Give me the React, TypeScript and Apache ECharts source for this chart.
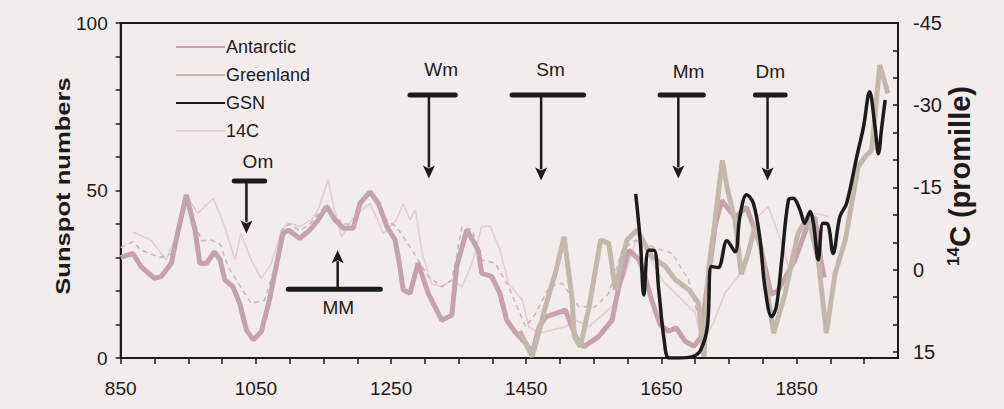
import React, { useEffect, useRef } from "react";
import * as echarts from "echarts";

// ---- data (year, value) ----
const antarctic: [number, number][] = [
  [850, 30], [868, 31.2], [880, 27.3], [900, 23.8], [910, 24.3], [925, 28.3], [932, 35.2], [947, 48.7],
  [960, 38.2], [967, 28.3], [977, 28.3], [989, 31.7], [997, 29.3], [1004, 23.3], [1016, 21.3], [1026, 16.3],
  [1036, 8.4], [1046, 5.4], [1058, 7.9], [1070, 17.3], [1080, 27.3], [1090, 37.2], [1098, 38.2], [1115, 35.7],
  [1130, 38.2], [1142, 41.2], [1155, 45.2], [1167, 41.2], [1180, 38.7], [1194, 38.7], [1204, 46.2], [1219, 49.6],
  [1231, 46.2], [1244, 39.2], [1256, 35.2], [1263, 27.3], [1268, 20.3], [1278, 19.3], [1290, 28.3], [1305, 19.3],
  [1325, 11.3], [1340, 12.8], [1347, 27.3], [1362, 38.2], [1379, 32.2], [1384, 25.3], [1399, 24.3], [1411, 19.3],
  [1421, 11.3], [1433, 7.9], [1449, 4.4], [1459, 1.5], [1469, 9.3], [1479, 12.3], [1508, 14.3], [1523, 6.4],
  [1535, 3.4], [1557, 6.4], [1577, 11.3], [1587, 21.3], [1602, 32.2], [1617, 29.3], [1625, 25], [1636, 17],
  [1648, 10], [1660, 8], [1672, 9], [1685, 5], [1698, 3.5], [1708, 6], [1720, 25], [1730, 40], [1739, 47],
  [1759, 42], [1776, 45], [1797, 33], [1812, 19], [1822, 20], [1847, 29], [1867, 40], [1877, 42], [1886, 29],
  [1891, 24],
];

const greenland: [number, number][] = [
  [1440, 8], [1459, 0.4], [1478, 15], [1493, 25.3], [1506, 36.2], [1518, 17.3], [1521, 6.4], [1530, 3.4],
  [1543, 15.3], [1560, 35.2], [1572, 34.2], [1582, 20.3], [1592, 30], [1599, 35.2], [1614, 38.2], [1636, 30.2],
  [1656, 27.3], [1671, 23.3], [1691, 20.3], [1705, 16.3], [1713, 0.4], [1720, 27], [1730, 42], [1740, 59],
  [1747, 51], [1759, 41], [1768, 25], [1778, 31], [1788, 39], [1797, 33], [1816, 7.4], [1833, 19.3],
  [1852, 37.2], [1867, 42.2], [1882, 29.3], [1894, 7.4], [1907, 25.3], [1922, 35.2], [1941, 57.1], [1951, 60],
  [1961, 62], [1973, 87.5], [1985, 79],
];

const gsn: [number, number][] = [
  [1612, 49], [1619, 34.2], [1624, 18.8], [1631, 32.2], [1639, 32.2], [1646, 20.3], [1654, 5.4], [1661, 0],
  [1676, 0], [1696, 0.4], [1708, 2.4], [1718, 9.3], [1724, 27.3], [1734, 27], [1747, 35], [1759, 31.7],
  [1766, 42.2], [1776, 48.7], [1786, 46.2], [1796, 35.2], [1803, 21.3], [1813, 12.3], [1820, 15.3], [1828, 29.3],
  [1838, 47.2], [1845, 47.7], [1855, 44.2], [1862, 40.2], [1870, 43.7], [1875, 40.2], [1882, 29.3], [1889, 40.2],
  [1896, 40], [1904, 31.2], [1914, 42.2], [1924, 46.2], [1939, 60.1], [1949, 69], [1958, 79.5], [1966, 69],
  [1971, 61], [1976, 69], [1981, 77],
];

// 14C in promille (right axis, inverted)
const c14: [number, number][] = [
  [868, -6.9], [895, -5.4], [917, -1.8], [932, -6.0], [950, -13.0], [964, -10.3], [987, -13.0], [1004, -7.9],
  [1019, -1.8], [1028, -6.6], [1043, -1.8], [1058, 1.6], [1073, -1.2], [1088, -7.2], [1098, -8.5], [1115, -7.9],
  [1132, -9.1], [1142, -10.9], [1157, -16.4], [1165, -11.5], [1177, -6.0], [1192, -9.1], [1207, -10.9], [1219, -12.1],
  [1239, -6.6], [1258, -9.1], [1268, -12.1], [1278, -9.1], [1286, -10.9], [1296, -3.0], [1310, 2.5], [1325, 3.1],
  [1340, 1.9], [1355, 3.1], [1370, -1.2], [1384, -7.9], [1397, -7.9], [1411, -3.6], [1424, 2.5], [1444, 5.5],
  [1454, 10.4], [1469, 11.6], [1488, 11.0], [1508, 10.4], [1523, 9.2], [1543, 10.4], [1577, 6.7], [1597, 0.7],
  [1612, -5.4], [1626, -3.6], [1651, 1.9], [1676, 4.9], [1700, 7.9], [1710, 13.4], [1727, 9.7], [1744, 4.2],
  [1768, 0.6], [1793, -9.7], [1808, -11.5], [1823, -6.6], [1838, -0.6], [1857, -7.9], [1877, -10.3], [1897, -9.7],
];

// dashed envelope line (unlabelled in the legend)
const envelope: [number, number][] = [
  [850, 33], [868, 34.7], [880, 32.2], [908, 30], [925, 31], [947, 48], [960, 40], [970, 35], [984, 35.2],
  [997, 34], [1009, 27.3], [1025, 22], [1043, 16.3], [1063, 17.3], [1078, 27.3], [1088, 38.2], [1100, 40],
  [1115, 38], [1130, 40], [1142, 43], [1155, 46], [1167, 42], [1180, 40], [1194, 40], [1204, 46], [1219, 49],
  [1231, 46], [1244, 41], [1258, 39.2], [1281, 32.2], [1305, 24.3], [1325, 21.3], [1340, 23.3], [1355, 39.2],
  [1370, 38.2], [1384, 29.3], [1404, 28.3], [1424, 21.3], [1449, 9.3], [1464, 13.3], [1484, 21.3], [1503, 22.3],
  [1528, 15.3], [1552, 15.3], [1572, 19.3], [1592, 32.2], [1612, 35.2], [1640, 33], [1666, 31.2], [1690, 23.3],
  [1702, 14.3], [1715, 10],
];

// grand minima annotations
const minimaNames = ["Om", "MM", "Wm", "Sm", "Mm", "Dm"];
const minimaYear = [1036, 1171, 1306, 1472, 1675, 1807];
const barStart = [1018, 1098, 1278, 1429, 1648, 1789];
const barEnd = [1063, 1234, 1345, 1535, 1712, 1833];
const barLevel = [52.8, 20.5, 78.5, 78.5, 78.5, 78.5];
const tipLevel = [37.2, 32.2, 53.6, 53, 53.6, 53];
const labelYear = [1053, 1172, 1324, 1486, 1690, 1811];
const labelLevel = [58.6, 15.0, 86, 86, 85.6, 85.6];

const xLabels = [850, 1050, 1250, 1450, 1650, 1850];
const leftLabels = [0, 50, 100];
const rightLabels = [-45, -30, -15, 0, 15];

const FONT = '"Liberation Sans", Arial, Helvetica, sans-serif';
const INK = "#1c1a1b";
const BG = "#f2eced";

export default function App() {
  const ref = useRef<HTMLDivElement>(null);

  useEffect(() => {
    document.body.style.margin = "0";
    document.body.style.background = BG;
    const chart = echarts.init(ref.current!, null, { renderer: "svg" });

    const annData = minimaNames.map((_, i) => [
      minimaYear[i], barStart[i], barEnd[i], barLevel[i], tipLevel[i], labelYear[i], labelLevel[i],
    ]);

    const option: any = {
      animation: false,
      backgroundColor: BG,
      textStyle: { fontFamily: FONT },
      grid: {
        left: 120.7, right: 106, top: 23, bottom: 51,
        show: true, borderColor: INK, borderWidth: 2, backgroundColor: "transparent",
      },
      legend: {
        data: ["Antarctic", "Greenland", "GSN", "14C"],
        orient: "vertical",
        left: 170,
        top: 33,
        itemWidth: 49,
        itemHeight: 14,
        itemGap: 10,
        itemStyle: { opacity: 0 },
        textStyle: { fontSize: 18, color: INK, fontFamily: FONT, padding: [0, 0, 0, -4] },
      },
      xAxis: {
        type: "value",
        min: 850,
        max: 2000,
        interval: 50,
        splitLine: { show: false },
        axisLine: { lineStyle: { color: INK, width: 2 } },
        axisTick: { length: 6, lineStyle: { color: INK, width: 1.5 } },
        axisLabel: {
          margin: 21,
          fontSize: 19,
          color: INK,
          fontFamily: FONT,
          showMaxLabel: false,
          formatter: (v: number) => (xLabels.includes(v) ? String(v) : ""),
        },
      },
      yAxis: [
        {
          type: "value",
          min: 0,
          max: 100,
          interval: 10,
          position: "left",
          splitLine: { show: false },
          axisLine: { show: true, lineStyle: { color: INK, width: 2 } },
          axisTick: { show: true, length: 5, lineStyle: { color: INK, width: 1.5 } },
          axisLabel: {
            margin: 13,
            fontSize: 19,
            color: INK,
            fontFamily: FONT,
            formatter: (v: number) => (leftLabels.includes(v) ? String(v) : ""),
          },
        },
        {
          type: "value",
          min: -45,
          max: 16.1,
          interval: 5,
          inverse: true,
          position: "right",
          splitLine: { show: false },
          axisLine: { show: true, lineStyle: { color: INK, width: 2 } },
          axisTick: { show: true, inside: true, length: 5, lineStyle: { color: INK, width: 1.5 } },
          axisLabel: {
            margin: 15,
            fontSize: 20,
            color: INK,
            fontFamily: FONT,
            formatter: (v: number) => (rightLabels.includes(v) ? String(v) : ""),
          },
        },
      ],
      graphic: [
        {
          type: "text",
          x: 63,
          y: 186,
          rotation: Math.PI / 2,
          scaleX: 1.28,
          style: {
            text: "Sunspot numbers",
            font: `bold 20px ${FONT}`,
            fill: INK,
            align: "center",
            verticalAlign: "middle",
          },
        },
        {
          type: "text",
          x: 960,
          y: 176,
          rotation: Math.PI / 2,
          style: {
            text: "{sup|14}{main|C (promille)}",
            align: "center",
            verticalAlign: "middle",
            fill: INK,
            rich: {
              sup: { font: `bold 17px ${FONT}`, fill: INK, verticalAlign: "top", lineHeight: 30 },
              main: { font: `bold 29px ${FONT}`, fill: INK, lineHeight: 30 },
            },
          },
        },
      ],
      series: [
        {
          name: "14C",
          type: "line",
          yAxisIndex: 1,
          data: c14,
          symbol: "none",
          lineStyle: { color: "#e2cdd2", width: 1.6 },
          itemStyle: { color: "#e2cdd2" },
          z: 1,
        },
        {
          name: "envelope",
          type: "line",
          data: envelope,
          symbol: "none",
          lineStyle: { color: "#cfb3b8", width: 1.5, type: [5, 4] },
          z: 2,
        },
        {
          name: "Antarctic",
          type: "line",
          data: antarctic,
          symbol: "none",
          lineStyle: { color: "#c4a4aa", width: 5 },
          itemStyle: { color: "#c4a4aa" },
          z: 3,
        },
        {
          name: "Greenland",
          type: "line",
          data: greenland,
          symbol: "none",
          lineStyle: { color: "#c3b8ad", width: 5 },
          itemStyle: { color: "#c3b8ad" },
          z: 4,
        },
        {
          name: "GSN",
          type: "line",
          data: gsn,
          symbol: "none",
          smooth: 0.35,
          lineStyle: { color: INK, width: 3.5 },
          itemStyle: { color: INK },
          z: 5,
        },
        {
          name: "minima",
          type: "custom",
          data: annData,
          encode: { x: 0, y: 3 },
          z: 10,
          renderItem: (params: any, api: any) => {
            const i = params.dataIndex;
            const s = api.coord([api.value(0), api.value(3)]);
            const b0 = api.coord([api.value(1), api.value(3)]);
            const b1 = api.coord([api.value(2), api.value(3)]);
            const t = api.coord([api.value(0), api.value(4)]);
            const l = api.coord([api.value(5), api.value(6)]);
            const dir = t[1] > s[1] ? 1 : -1;
            const head = 13;
            const hw = 6;
            const stemEnd = t[1] - dir * head;
            return {
              type: "group",
              children: [
                { type: "line", shape: { x1: b0[0], y1: b0[1], x2: b1[0], y2: b1[1] }, style: { stroke: INK, lineWidth: 5, lineCap: "round" } },
                { type: "line", shape: { x1: s[0], y1: s[1], x2: s[0], y2: stemEnd + dir * 2 }, style: { stroke: INK, lineWidth: 2.5 } },
                { type: "polygon", shape: { points: [[t[0] - hw, stemEnd], [t[0], stemEnd + dir * 3], [t[0] + hw, stemEnd], [t[0], t[1]]] }, style: { fill: INK } },
                {
                  type: "text",
                  x: l[0],
                  y: l[1],
                  style: { text: minimaNames[i], font: `19px ${FONT}`, fill: INK, align: "center", verticalAlign: "middle" },
                },
              ],
            };
          },
        },
      ],
    };

    chart.setOption(option);
    return () => chart.dispose();
  }, []);

  return (
    <div
      ref={ref}
      style={{ position: "fixed", left: 0, top: 0, width: 1004, height: 409, background: BG }}
    />
  );
}
